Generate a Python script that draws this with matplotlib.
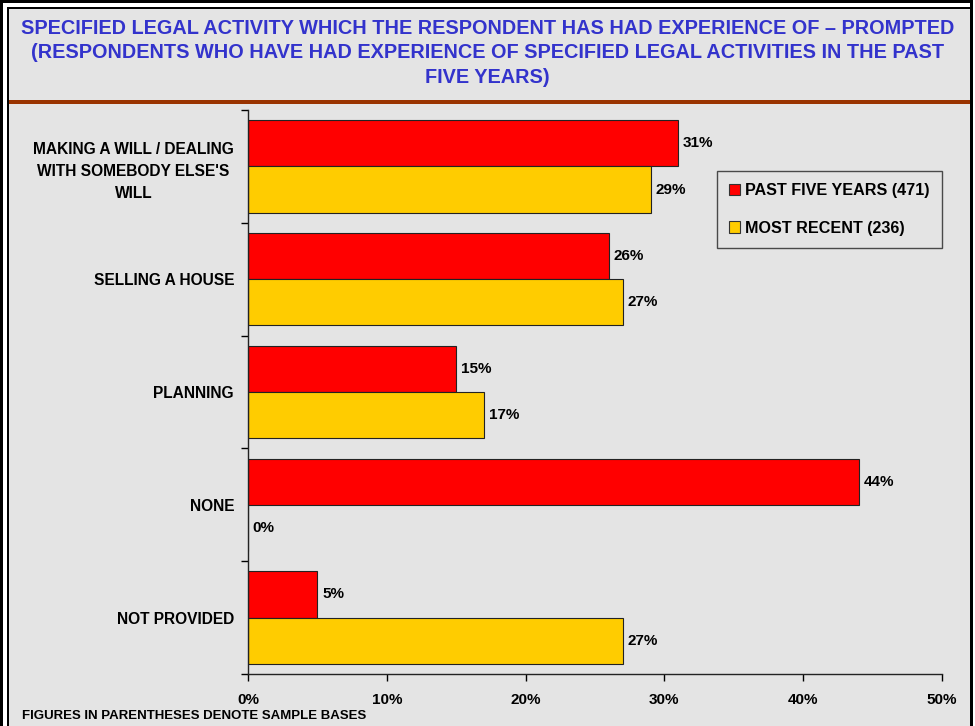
import matplotlib
matplotlib.use("Agg")
import matplotlib.pyplot as plt
from matplotlib.patches import Rectangle, Patch

categories = [
    "MAKING A WILL / DEALING\nWITH SOMEBODY ELSE'S\nWILL",
    "SELLING A HOUSE",
    "PLANNING",
    "NONE",
    "NOT PROVIDED",
]
past_five_years = [31, 26, 15, 44, 5]
most_recent = [29, 27, 17, 0, 27]
series_labels = ["PAST FIVE YEARS (471)", "MOST RECENT (236)"]
xticks = [0, 10, 20, 30, 40, 50]

title = ("SPECIFIED LEGAL ACTIVITY WHICH THE RESPONDENT HAS HAD EXPERIENCE OF \u2013 PROMPTED\n"
         "(RESPONDENTS WHO HAVE HAD EXPERIENCE OF SPECIFIED LEGAL ACTIVITIES IN THE PAST\n"
         "FIVE YEARS)")
footnote = "FIGURES IN PARENTHESES DENOTE SAMPLE BASES"

RED = "#ff0000"
YELLOW = "#ffcc00"
BG = "#e4e4e4"
W, H = 975, 726

plt.rcParams["font.family"] = ["Liberation Sans", "DejaVu Sans"]
plt.rcParams["font.weight"] = "bold"

fig = plt.figure(figsize=(W / 100, H / 100), dpi=100, facecolor="white")


def fx(px):
    return px / W


def fy(py):
    return 1 - py / H


# panel background and double frame
fig.patches.append(Rectangle((fx(9), 0), fx(961), fy(9), transform=fig.transFigure,
                             facecolor=BG, edgecolor="none", zorder=-10))
for x0, y0, w, h in [(0, 0, 3, H), (0, 0, 973, 3), (970, 0, 3, H),
                     (7, 7, 2, H), (7, 7, 963, 2)]:
    fig.patches.append(Rectangle((fx(x0), fy(y0 + h)), fx(w), h / H,
                                 transform=fig.transFigure, facecolor="black",
                                 edgecolor="none", zorder=-5))
# brown rule under the title
fig.patches.append(Rectangle((fx(9), fy(104)), fx(961), 4 / H, transform=fig.transFigure,
                             facecolor="#993300", edgecolor="none", zorder=-5))

fig.text(0.5, fy(53), title, ha="center", va="center", color="#3333cc",
         fontsize=14.3, fontweight="bold", linespacing=1.38)
fig.text(fx(22), fy(716), footnote, ha="left", va="center", fontsize=9.5,
         fontweight="bold")

ax = fig.add_axes([fx(248), fy(674), fx(942 - 248), (674 - 110) / H])
ax.patch.set_alpha(0)
ax.set_zorder(5)

ypos = list(range(len(categories)))
bh = 0.41
ax.barh([y - bh / 2 for y in ypos], past_five_years, height=bh, color=RED,
        edgecolor="#222222", linewidth=0.8)
ax.barh([y + bh / 2 for y in ypos], most_recent, height=bh, color=YELLOW,
        edgecolor="#222222", linewidth=0.8)

for y, v in zip(ypos, past_five_years):
    ax.text(v + 0.35, y - bh / 2, f"{v:.0f}%", va="center", ha="left",
            fontsize=11, fontweight="bold")
for y, v in zip(ypos, most_recent):
    ax.text(v + 0.35, y + bh / 2, f"{v:.0f}%", va="center", ha="left",
            fontsize=11, fontweight="bold")

ax.set_xlim(0, 50)
ax.set_ylim(len(categories) - 0.5, -0.5)
ax.set_xticks(xticks)
ax.set_xticklabels([f"{t}%" for t in xticks], fontsize=11, fontweight="bold")
ax.set_yticks(ypos)
ax.set_yticklabels(categories, fontsize=11.2, fontweight="bold",
                   multialignment="center", linespacing=1.57)
ax.set_yticks([y - 0.5 for y in range(len(categories) + 1)], minor=True)
ax.tick_params(axis="y", which="major", length=0, pad=10)
ax.tick_params(axis="y", which="minor", length=5, direction="out", width=1)
ax.tick_params(axis="x", length=5, direction="out", width=1, pad=9)

for side in ["top", "right"]:
    ax.spines[side].set_visible(False)
for side in ["left", "bottom"]:
    ax.spines[side].set_linewidth(1)
    ax.spines[side].set_color("#222222")

handles = [Patch(facecolor=RED, edgecolor="#333333", linewidth=0.8),
           Patch(facecolor=YELLOW, edgecolor="#333333", linewidth=0.8)]
leg = fig.legend(handles, series_labels, loc="upper left",
                 bbox_to_anchor=(fx(717), fy(171)), bbox_transform=fig.transFigure,
                 prop={"weight": "bold", "size": 11.6},
                 handlelength=0.7, handleheight=0.7, handletextpad=0.3,
                 labelspacing=1.4, borderpad=0.75, borderaxespad=0,
                 fancybox=False, frameon=True)
leg.get_frame().set_edgecolor("#222222")
leg.get_frame().set_facecolor("none")
leg.get_frame().set_linewidth(1)
leg.set_zorder(10)

fig.savefig("out.png", dpi=100, facecolor=fig.get_facecolor())
